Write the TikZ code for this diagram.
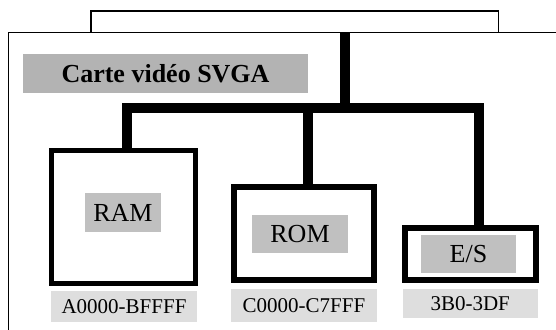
\documentclass[tikz,border=0pt]{standalone}
\usepackage{fontspec}
\setmainfont{Liberation Serif}
\definecolor{titlegr}{RGB}{179,179,179}
\definecolor{labgr}{RGB}{192,192,192}
\definecolor{addrgr}{RGB}{222,222,222}
\tikzset{
  thinline/.style={line width=1.6pt, draw=black},
  bus/.style={line width=10pt, draw=black, line join=miter},
  unitbox/.style={draw=black, rectangle, inner sep=0pt, fill=white},
  graylab/.style={fill=labgr, rectangle, inner sep=0pt, font=\fontsize{26}{30}\selectfont},
  addrlab/.style={fill=addrgr, rectangle, inner sep=0pt, font=\fontsize{21}{25}\selectfont},
}
\begin{document}
\begin{tikzpicture}[x=1pt,y=-1pt]
\useasboundingbox (0,0) rectangle (556,329);
% outer card frame (clipped by the picture edge)
\begin{scope}
  \clip (0,0) rectangle (556,329);
  \draw[thinline] (8.5,32.5) rectangle (580,360);
\end{scope}
% connector tab on top
\draw[thinline] (91,32.5) |- (498.5,11) -- (498.5,32.5);
% title
\node[fill=titlegr, rectangle, inner sep=0pt, minimum width=285pt, minimum height=39pt,
      font=\bfseries\fontsize{26}{30}\selectfont] (title) at (165.5,73.5) {Carte vidéo SVGA};
% units
\node[unitbox, line width=5pt, minimum width=144pt, minimum height=133pt] (ram) at (123.5,217) {};
\node[unitbox, line width=6pt, minimum width=140pt, minimum height=93pt] (rom) at (304,233.5) {};
\node[unitbox, line width=6pt, minimum width=131pt, minimum height=52pt] (es) at (470.3,254) {};
\node[graylab, minimum width=76pt, minimum height=39pt] (ramlab) at (123,212.5) {RAM};
\node[graylab, minimum width=96pt, minimum height=38pt] (romlab) at (300,234) {ROM};
\node[graylab, minimum width=95pt, minimum height=38pt] (eslab) at (468.5,254) {E/S};
% address ranges
\node[addrlab, minimum width=146pt, minimum height=31pt] (ramaddr) at (124,306.5) {A0000-BFFFF};
\node[addrlab, minimum width=146pt, minimum height=33pt] (romaddr) at (304,305.5) {C0000-C7FFF};
\node[addrlab, minimum width=135pt, minimum height=29pt] (esaddr) at (470.2,303.5) {3B0-3DF};
% bus
\coordinate (jtop) at (345,32.5);
\coordinate (jmid) at (345,108);
\coordinate (bl) at (127,108);
\coordinate (bm) at (308,108);
\coordinate (br) at (479,108);
\draw[bus] (jtop) -- (jmid);
\draw[bus] (bl |- ram.north) -- (bl) -- (br) -- (br |- es.north);
\draw[bus] (bm) -- (bm |- rom.north);
\end{tikzpicture}
\end{document}
